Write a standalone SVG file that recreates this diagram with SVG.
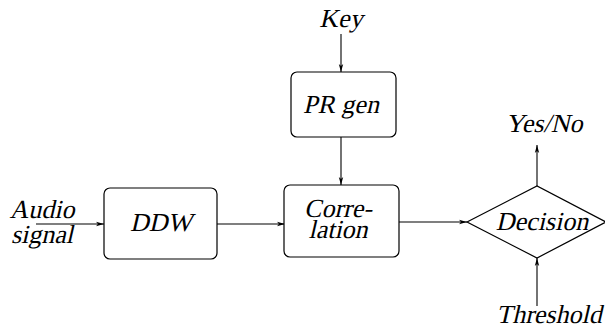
<svg xmlns="http://www.w3.org/2000/svg" width="605" height="329" viewBox="0 0 605 329">
<defs>
<marker id="ah" markerWidth="8" markerHeight="6" refX="8" refY="3" orient="auto" markerUnits="userSpaceOnUse">
<path d="M0,0.8 L8,3 L0,5.2 L2,3 Z" fill="#000"/>
</marker>
</defs>
<style>
.box{fill:#fff;stroke:#000;stroke-width:1.2}
.c{stroke:#000;stroke-width:1.1;fill:none;marker-end:url(#ah)}
</style>
<rect width="605" height="329" fill="#fff"/>
<g id="connectors">
<line class="c" x1="36" y1="224" x2="104" y2="224"/>
<line class="c" x1="217" y1="224" x2="285" y2="224"/>
<line class="c" x1="341" y1="34" x2="341" y2="72"/>
<line class="c" x1="341" y1="137" x2="341" y2="185"/>
<line class="c" x1="399" y1="222" x2="467" y2="222"/>
<line class="c" x1="537" y1="186" x2="537" y2="145"/>
<line class="c" x1="537" y1="306" x2="537" y2="258"/>
</g>
<g font-size="26" text-anchor="middle" fill="#000">
<g id="audio"><text font-family="Liberation Serif" font-style="normal" transform="translate(42,218) skewX(-13)">Audio</text><text font-family="Liberation Serif" font-style="normal" transform="translate(42,243) skewX(-13)">signal</text></g>
<g id="ddw"><rect class="box" x="104" y="188" width="113" height="71" rx="6"/><text font-family="Liberation Serif" font-style="normal" transform="translate(161,231) skewX(-13)">DDW</text></g>
<g id="key"><text font-family="Liberation Serif" font-style="normal" transform="translate(341,27) skewX(-13)">Key</text></g>
<g id="prgen"><rect class="box" x="291" y="72" width="105" height="65" rx="6"/><text font-family="Liberation Serif" font-style="normal" transform="translate(341,113) skewX(-13)">PR gen</text></g>
<g id="correlation"><rect class="box" x="284" y="185" width="115" height="72" rx="6"/><text font-family="Liberation Serif" font-style="normal" transform="translate(338,217) skewX(-13)">Corre-</text><text font-family="Liberation Serif" font-style="normal" transform="translate(338,238) skewX(-13)">lation</text></g>
<g id="decision"><path class="box" d="M467,222 L537,186 L606,222 L537,258 Z"/><text font-family="Liberation Serif" font-style="normal" transform="translate(542,230) skewX(-13)">Decision</text></g>
<g id="yesno"><text font-family="Liberation Serif" font-style="normal" transform="translate(544,132) skewX(-13)">Yes/No</text></g>
<g id="threshold"><text font-family="Liberation Serif" font-style="normal" transform="translate(549,323) skewX(-13)">Threshold</text></g>
</g>
</svg>
